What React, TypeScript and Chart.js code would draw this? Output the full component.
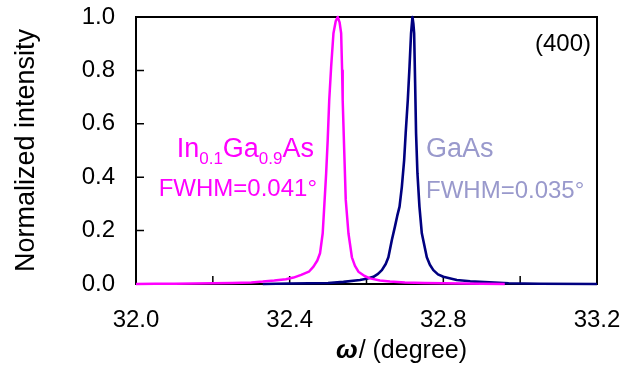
import React, { useEffect, useRef } from 'react';
import { Chart, registerables } from 'chart.js';

Chart.register(...registerables);

// In0.1Ga0.9As rocking curve (omega in degrees, normalized intensity)
const inGaAsOmega = [
  32.0, 32.05, 32.1, 32.15, 32.2, 32.25, 32.3, 32.33, 32.36, 32.39, 32.41, 32.43, 32.45,
  32.462, 32.472, 32.479, 32.486, 32.49, 32.495, 32.499, 32.503, 32.508, 32.514, 32.52,
  32.525, 32.53, 32.534, 32.5365, 32.538, 32.542, 32.546, 32.553, 32.562, 32.57, 32.579,
  32.595, 32.609, 32.635, 32.661, 32.7, 32.75, 32.8, 32.85, 32.9, 32.96,
];
const inGaAsIntensity = [
  0.0, 0.001, 0.001, 0.002, 0.003, 0.004, 0.006, 0.009, 0.013, 0.018, 0.024, 0.034, 0.046,
  0.065, 0.088, 0.115, 0.19, 0.29, 0.415, 0.539, 0.689, 0.814, 0.939, 0.985,
  1.0, 0.98, 0.939, 0.8, 0.689, 0.5, 0.315, 0.19, 0.1, 0.068, 0.046,
  0.03, 0.021, 0.013, 0.009, 0.006, 0.004, 0.003, 0.002, 0.001, 0.0,
];

// GaAs substrate rocking curve
const gaAsOmega = [
  32.33, 32.4, 32.45, 32.5, 32.54, 32.583, 32.6, 32.618, 32.63, 32.64, 32.65, 32.657, 32.666,
  32.674, 32.68, 32.686, 32.692, 32.698, 32.702, 32.7075, 32.712, 32.716, 32.7196, 32.722,
  32.724, 32.7266, 32.729, 32.7326, 32.7378, 32.744, 32.757, 32.765, 32.774, 32.786, 32.8,
  32.835, 32.87, 32.92, 32.97, 33.05, 33.2,
];
const gaAsIntensity = [
  0.0, 0.002, 0.003, 0.004, 0.008, 0.015, 0.02, 0.027, 0.038, 0.052, 0.075, 0.1, 0.165,
  0.215, 0.255, 0.29, 0.364, 0.464, 0.565, 0.689, 0.814, 0.939, 1.0, 0.975,
  0.939, 0.752, 0.565, 0.415, 0.29, 0.19, 0.1, 0.072, 0.052, 0.036, 0.027,
  0.015, 0.01, 0.006, 0.003, 0.001, 0.0,
];

const xMin = 32.0;
const xMax = 33.2;
const xStep = 0.2;
const xLabelEvery = 0.4;
const yMin = 0;
const yMax = 1.0;
const yStep = 0.2;

const FONT = "'Liberation Sans', Arial, sans-serif";

const framePlugin = {
  id: 'frameTicks',
  beforeDatasetsDraw(chart: any) {
    const { ctx, chartArea: a, scales } = chart;
    ctx.save();
    ctx.strokeStyle = '#000';
    ctx.lineWidth = 2;
    ctx.strokeRect(a.left, a.top, a.right - a.left, a.bottom - a.top);
    ctx.beginPath();
    scales.x.ticks.forEach((t: any) => {
      const px = scales.x.getPixelForValue(t.value);
      ctx.moveTo(px, a.bottom);
      ctx.lineTo(px, a.bottom - 8);
    });
    scales.y.ticks.forEach((t: any) => {
      const py = scales.y.getPixelForValue(t.value);
      ctx.moveTo(a.left, py);
      ctx.lineTo(a.left + 8, py);
    });
    ctx.lineWidth = 1.5;
    ctx.stroke();
    ctx.restore();
  },
};

const textPlugin = {
  id: 'annotations',
  afterDatasetsDraw(chart: any) {
    const { ctx } = chart;
    ctx.save();
    ctx.textBaseline = 'alphabetic';

    // In0.1Ga0.9As label (right aligned)
    const big = `27px ${FONT}`;
    const small = `17px ${FONT}`;
    const parts: [string, boolean][] = [
      ['In', false], ['0.1', true], ['Ga', false], ['0.9', true], ['As', false],
    ];
    let total = 0;
    parts.forEach(([s, sub]) => {
      ctx.font = sub ? small : big;
      total += ctx.measureText(s).width;
    });
    let x = 314 - total;
    ctx.fillStyle = '#ff00ff';
    ctx.textAlign = 'left';
    parts.forEach(([s, sub]) => {
      ctx.font = sub ? small : big;
      ctx.fillText(s, x, sub ? 164 : 157);
      x += ctx.measureText(s).width;
    });
    ctx.font = `24px ${FONT}`;
    ctx.textAlign = 'right';
    ctx.fillText('FWHM=0.041°', 317, 196);

    // GaAs label
    ctx.fillStyle = '#9999cc';
    ctx.textAlign = 'left';
    ctx.font = `27px ${FONT}`;
    ctx.fillText('GaAs', 426, 157);
    ctx.font = `24px ${FONT}`;
    ctx.fillText('FWHM=0.035°', 426, 198);

    // (400)
    ctx.fillStyle = '#000';
    ctx.textAlign = 'right';
    ctx.font = `24px ${FONT}`;
    ctx.fillText('(400)', 591, 51);

    // Y axis title
    ctx.save();
    ctx.translate(34, (chart.chartArea.top + chart.chartArea.bottom) / 2);
    ctx.rotate(-Math.PI / 2);
    ctx.textAlign = 'center';
    ctx.font = `27px ${FONT}`;
    ctx.fillText('Normalized intensity', 0, 0);
    ctx.restore();

    // X axis title: bold italic omega + normal text
    ctx.textAlign = 'left';
    ctx.font = `bold italic 26px ${FONT}`;
    const omegaW = ctx.measureText('ω').width;
    ctx.font = `25px ${FONT}`;
    const restW = ctx.measureText('/ (degree)').width;
    const startX = 401 - (omegaW + restW) / 2;
    ctx.font = `bold italic 26px ${FONT}`;
    ctx.fillText('ω', startX, 358);
    ctx.font = `25px ${FONT}`;
    ctx.fillText('/ (degree)', startX + omegaW + 1, 358);

    ctx.restore();
  },
};

export default function App() {
  const canvasRef = useRef<HTMLCanvasElement | null>(null);

  useEffect(() => {
    const canvas = canvasRef.current;
    if (!canvas) return;
    const inGaAsData = inGaAsOmega.map((x, i) => ({ x, y: inGaAsIntensity[i] }));
    const gaAsData = gaAsOmega.map((x, i) => ({ x, y: gaAsIntensity[i] }));

    const chart = new Chart(canvas, {
      type: 'line',
      data: {
        datasets: [
          {
            label: 'In0.1Ga0.9As',
            data: inGaAsData,
            borderColor: '#ff00ff',
            borderWidth: 2.5,
            borderJoinStyle: 'round',
            pointRadius: 0,
            tension: 0,
            fill: false,
            clip: 6,
          },
          {
            label: 'GaAs',
            data: gaAsData,
            borderColor: '#000080',
            borderWidth: 2.6,
            borderJoinStyle: 'round',
            pointRadius: 0,
            tension: 0,
            fill: false,
            clip: 6,
          },
        ],
      },
      options: {
        responsive: false,
        animation: false,
        layout: { padding: { left: 0, top: 17, right: 43, bottom: 0 } },
        plugins: {
          legend: { display: false },
          tooltip: { enabled: false },
          title: { display: false },
        },
        scales: {
          x: {
            type: 'linear',
            min: xMin,
            max: xMax,
            grid: { display: false, drawTicks: false },
            border: { display: false },
            ticks: {
              stepSize: xStep,
              autoSkip: false,
              maxRotation: 0,
              padding: 22,
              color: '#000',
              font: { family: FONT, size: 24 },
              callback: (v: any) => {
                const n = Number(v);
                const k = Math.round((n - xMin) / xStep);
                const every = Math.round(xLabelEvery / xStep);
                return k % every === 0 ? n.toFixed(1) : '';
              },
            },
            afterFit: (scale: any) => {
              scale.height = 95;
              scale.paddingLeft = 0;
              scale.paddingRight = 0;
              scale.paddingTop = 0;
              scale.paddingBottom = 0;
            },
          },
          y: {
            type: 'linear',
            min: yMin,
            max: yMax,
            grid: { display: false, drawTicks: false },
            border: { display: false },
            ticks: {
              stepSize: yStep,
              padding: 21,
              color: '#000',
              font: { family: FONT, size: 24 },
              callback: (v: any) => Number(v).toFixed(1),
            },
            afterFit: (scale: any) => {
              scale.width = 136;
              scale.paddingLeft = 0;
              scale.paddingRight = 0;
              scale.paddingTop = 0;
              scale.paddingBottom = 0;
            },
          },
        },
      },
      plugins: [framePlugin, textPlugin],
    });
    return () => chart.destroy();
  }, []);

  return (
    <div style={{ position: 'fixed', left: 0, top: 0, width: 640, height: 379, background: '#fff' }}>
      <canvas ref={canvasRef} width={640} height={379} style={{ display: 'block', width: 640, height: 379 }} />
    </div>
  );
}
